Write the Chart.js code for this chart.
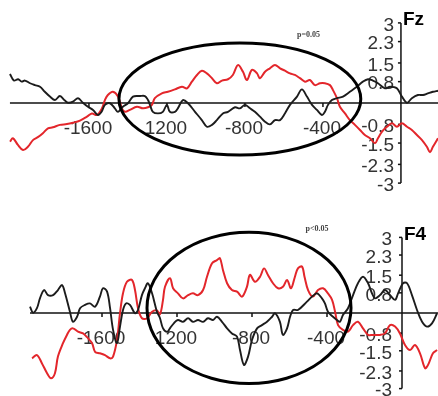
<!DOCTYPE html>
<html>
<head>
<meta charset="utf-8">
<script src="https://cdn.jsdelivr.net/npm/chart.js@4/dist/chart.umd.min.js"></script>
<style>
  body { margin: 0; background: #fff; }
  #wrap { position: relative; width: 438px; height: 396px; }
  #wrap canvas { position: absolute; left: 0; }
</style>
</head>
<body>
<div id="wrap">
  <canvas id="fzChart" width="438" height="200" style="top:0"></canvas>
  <canvas id="f4Chart" width="438" height="196" style="top:200px"></canvas>
</div>
<script>
// tick labels (as printed on the figure)
const xTickValues = [-1600, -1200, -800, -400];
const xTickLabels = ['-1600', '1200', '-800', '-400'];
const yTickValues = [3, 2.3, 1.5, 0.8, -0.8, -1.5, -2.3, -3];
const yTickLabels = ['3', '2.3', '1.5', '0.8', '-0.8', '-1.5', '-2.3', '-3'];

// Fz, time in ms
const fzBlackT = [-2005,-1985,-1963,-1945,-1928,-1902,-1877,-1851,-1826,-1800,-1774,-1749,-1723,-1706,-1682,-1656,-1631,-1605,-1579,-1554,-1535,-1518,-1492,-1467,-1451,-1426,-1400,-1374,-1338,-1313,-1297,-1287,-1272,-1246,-1221,-1200,-1185,-1159,-1144,-1118,-1092,-1056,-1021,-995,-969,-944,-913,-887,-851,-826,-800,-774,-749,-723,-697,-672,-646,-620,-595,-569,-533,-508,-482,-456,-431,-405,-390,-374,-354,-328,-297,-262,-226,-195,-169,-144,-118,-82,-56,-21,5,31,56,87,113,138,164,190];
const fzBlackV = [1.09,0.84,0.89,0.80,0.84,0.74,0.67,0.61,0.42,0.24,0.11,0.26,0.09,0.01,0.05,0.18,0.01,-0.14,-0.26,-0.45,-0.33,-0.07,-0.01,-0.20,-0.33,-0.14,-0.01,0.24,0.26,0.26,0.11,-0.07,-0.33,-0.39,-0.33,-0.07,-0.33,-0.33,-0.20,0.11,-0.01,-0.33,-0.64,-0.89,-0.82,-0.64,-0.39,-0.33,-0.16,-0.20,-0.07,-0.20,-0.33,-0.51,-0.70,-0.80,-0.64,-0.64,-0.39,-0.07,0.24,0.51,0.24,-0.07,-0.26,-0.45,-0.33,-0.07,0.11,0.18,0.24,0.42,0.61,0.80,0.89,0.84,0.74,0.55,0.61,0.55,0.24,0.01,0.18,0.30,0.30,0.36,0.42,0.46];
const fzRedT = [-2005,-1990,-1964,-1938,-1913,-1887,-1862,-1836,-1810,-1785,-1749,-1713,-1682,-1646,-1610,-1585,-1559,-1533,-1518,-1503,-1477,-1451,-1431,-1415,-1390,-1354,-1323,-1297,-1277,-1262,-1226,-1195,-1159,-1123,-1097,-1072,-1046,-1021,-995,-969,-944,-918,-887,-862,-836,-810,-790,-764,-738,-723,-697,-672,-646,-620,-595,-569,-544,-518,-492,-467,-441,-415,-390,-364,-349,-328,-313,-287,-262,-236,-210,-185,-159,-133,-118,-97,-72,-46,-21,5,31,56,82,108,133,149,164,190];
const fzRedV = [-1.45,-1.32,-1.57,-1.76,-1.64,-1.39,-1.28,-1.13,-0.95,-0.91,-0.82,-0.79,-0.74,-0.66,-0.51,-0.39,-0.45,-0.20,0.11,0.30,0.42,0.24,-0.20,-0.33,-0.26,-0.14,-0.20,-0.16,-0.07,0.18,0.36,0.42,0.51,0.61,0.55,0.80,1.05,1.21,1.11,0.93,0.74,0.84,0.89,1.05,1.42,1.17,0.86,1.24,1.11,0.93,1.17,1.30,1.42,1.30,1.21,1.11,1.05,0.93,0.80,0.86,0.67,0.74,0.74,0.67,0.49,0.18,-0.14,-0.39,-0.64,-0.82,-1.01,-1.20,-1.32,-1.51,-1.32,-1.07,-0.89,-0.76,-0.89,-0.76,-0.89,-1.01,-1.20,-1.39,-1.64,-1.84,-1.64,-1.32];

// F4
const f4BlackT = [-1984,-1968,-1947,-1931,-1909,-1888,-1861,-1835,-1813,-1797,-1771,-1755,-1733,-1717,-1691,-1664,-1637,-1611,-1595,-1573,-1557,-1541,-1520,-1504,-1488,-1472,-1451,-1424,-1408,-1387,-1371,-1355,-1333,-1307,-1291,-1275,-1253,-1237,-1216,-1195,-1168,-1141,-1115,-1088,-1061,-1035,-1008,-987,-960,-933,-907,-880,-864,-843,-821,-800,-773,-747,-720,-693,-677,-651,-635,-613,-597,-581,-555,-507,-480,-453,-427,-411,-395,-368,-347,-331,-315,-288,-261,-235,-208,-181,-160,-144,-117,-91,-64,-37,-21,5,27,53,80,107,133,160,187];
const f4BlackV = [0.25,0.01,0.19,0.58,0.91,0.71,0.71,0.91,1.11,0.78,0.05,-0.35,-0.15,0.19,0.32,0.38,0.25,0.65,0.98,0.85,0.19,-0.67,-1.20,-0.54,0.12,0.38,0.32,-0.01,0.12,0.71,0.98,1.18,0.78,0.05,-0.20,-0.60,-0.75,-0.60,-0.40,-0.28,-0.35,-0.21,-0.35,-0.28,-0.35,-0.21,-0.28,-0.15,-0.35,-0.61,-0.81,-0.94,-1.47,-2.06,-1.73,-1.07,-0.61,-0.48,-0.35,-0.15,-0.01,-0.35,-0.87,-0.61,-0.15,0.12,0.12,0.45,0.65,0.78,0.58,0.38,0.05,-0.15,-0.28,-0.35,-0.08,0.19,0.71,1.18,1.44,1.18,0.78,0.58,0.71,0.91,0.71,0.52,0.78,1.18,1.18,0.71,0.12,-0.35,-0.54,-0.41,-0.01];
const f4RedT = [-1973,-1947,-1920,-1893,-1872,-1851,-1835,-1808,-1787,-1771,-1755,-1728,-1701,-1680,-1653,-1637,-1611,-1584,-1557,-1541,-1520,-1504,-1488,-1467,-1440,-1424,-1408,-1387,-1360,-1333,-1307,-1291,-1275,-1264,-1237,-1221,-1195,-1168,-1141,-1115,-1088,-1061,-1040,-1013,-987,-971,-955,-933,-907,-880,-853,-827,-811,-784,-757,-736,-715,-688,-661,-635,-613,-592,-571,-555,-533,-520,-501,-475,-448,-421,-395,-373,-357,-341,-315,-288,-261,-235,-208,-181,-155,-117,-91,-64,-37,-11,16,43,69,96,123,139,165,187];
const f4RedV = [-1.80,-1.67,-2.00,-2.39,-2.59,-2.39,-1.73,-1.20,-0.87,-0.67,-0.61,-0.74,-0.81,-0.96,-1.20,-1.54,-1.60,-1.67,-1.80,-1.73,-1.07,-0.01,0.78,1.24,1.31,0.91,0.19,-0.21,-0.21,0.05,0.10,-0.05,0.50,1.04,1.38,0.98,0.78,0.58,0.71,0.78,0.71,0.91,1.44,1.97,2.10,2.17,1.71,1.18,0.91,0.85,0.65,1.04,1.51,1.24,1.44,1.77,1.51,1.18,0.98,1.04,1.31,0.98,1.44,1.77,1.84,1.44,0.91,0.65,0.91,0.98,0.78,0.52,0.05,-0.48,-0.67,-0.74,-0.48,-0.35,-0.61,-0.87,-0.87,-0.87,-0.81,-0.48,-0.54,-0.81,-1.27,-1.47,-1.27,-1.60,-2.19,-2.06,-1.60,-1.47];

function toPoints(ts, vs) {
  return ts.map((t, i) => ({ x: t, y: vs[i] }));
}

// axes, ticks, labels, ellipse and title drawn with the chart's scales
const panelDecor = {
  id: 'panelDecor',
  beforeDatasetsDraw(chart, args, o) {
    const ctx = chart.ctx;
    const xs = chart.scales.x, ys = chart.scales.y;
    const x0 = xs.getPixelForValue(0), y0 = ys.getPixelForValue(0);
    ctx.save();
    ctx.strokeStyle = '#111';
    ctx.lineWidth = 1.5;
    ctx.beginPath();
    ctx.moveTo(xs.getPixelForValue(o.lineStart), y0);
    ctx.lineTo(chart.chartArea.right, y0);
    ctx.stroke();
    ctx.beginPath();
    ctx.moveTo(x0, ys.getPixelForValue(3));
    ctx.lineTo(x0, ys.getPixelForValue(-3));
    ctx.stroke();

    ctx.fillStyle = '#333';
    ctx.font = '19px "Liberation Sans", Arial, sans-serif';
    ctx.textAlign = 'right';
    ctx.textBaseline = 'middle';
    yTickValues.forEach((v, i) => {
      const py = ys.getPixelForValue(v);
      ctx.beginPath();
      ctx.moveTo(x0 - 3, py);
      ctx.lineTo(x0, py);
      ctx.stroke();
      ctx.fillText(yTickLabels[i], x0 - o.yLabelGap, py + 2.5);
    });
    ctx.textAlign = 'center';
    xTickValues.forEach((v, i) => {
      const px = xs.getPixelForValue(v);
      ctx.beginPath();
      ctx.moveTo(px, y0);
      ctx.lineTo(px, y0 + 4);
      ctx.stroke();
      ctx.fillText(xTickLabels[i], px - 1, y0 + 26);
    });
    ctx.restore();
  },
  afterDatasetsDraw(chart, args, o) {
    const ctx = chart.ctx;
    const xs = chart.scales.x, ys = chart.scales.y;
    const e = o.ellipse; // [center ms, center uV, half-width ms, half-height uV]
    const cx = xs.getPixelForValue(e[0]), cy = ys.getPixelForValue(e[1]);
    const rx = xs.getPixelForValue(e[0] + e[2]) - cx;
    const ry = cy - ys.getPixelForValue(e[1] + e[3]);
    ctx.save();
    ctx.strokeStyle = '#000';
    ctx.lineWidth = 3;
    ctx.beginPath();
    ctx.ellipse(cx, cy, rx, ry, 0, 0, Math.PI * 2);
    ctx.stroke();

    const x0 = xs.getPixelForValue(0);
    ctx.fillStyle = '#000';
    ctx.font = 'bold 19px "Liberation Sans", Arial, sans-serif';
    ctx.textAlign = 'left';
    ctx.textBaseline = 'middle';
    ctx.fillText(o.title, x0 + 2, ys.getPixelForValue(3) - 3);

    ctx.fillStyle = '#444';
    ctx.font = 'bold 8px "Liberation Serif", serif';
    ctx.textAlign = 'center';
    ctx.fillText(o.pText, xs.getPixelForValue(o.pPos[0]), ys.getPixelForValue(o.pPos[1]));
    ctx.restore();
  }
};

function makePanel(id, black, red, xr, yr, decor) {
  const ctx = document.getElementById(id).getContext('2d');
  return new Chart(ctx, {
    type: 'line',
    data: {
      datasets: [
        { data: black, borderColor: '#1c1c1c', borderWidth: 1.9, pointRadius: 0, tension: 0.35 },
        { data: red, borderColor: '#e3262b', borderWidth: 2, pointRadius: 0, tension: 0.35 }
      ]
    },
    options: {
      responsive: false,
      animation: false,
      events: [],
      layout: { padding: 0 },
      scales: {
        x: { type: 'linear', min: xr[0], max: xr[1], display: false },
        y: { type: 'linear', min: yr[0], max: yr[1], display: false }
      },
      plugins: {
        legend: { display: false },
        tooltip: { enabled: false },
        panelDecor: decor
      }
    },
    plugins: [panelDecor]
  });
}

makePanel('fzChart', toPoints(fzBlackT, fzBlackV), toPoints(fzRedT, fzRedV),
  [-2056, 190], [-3.633, 3.858],
  { lineStart: -2005, yLabelGap: 7, ellipse: [-826, 0.15, 620, 2.1], title: 'Fz', pText: 'p=0.05', pPos: [-474, 2.55] });

makePanel('f4Chart', toPoints(f4BlackT, f4BlackV), toPoints(f4RedT, f4RedV),
  [-2144, 192], [-3.294, 4.484],
  { lineStart: -1984, yLabelGap: 10, ellipse: [-816, 0.2, 544, 3.0], title: 'F4', pText: 'p<0.05', pPos: [-453, 3.33] });
</script>
</body>
</html>
